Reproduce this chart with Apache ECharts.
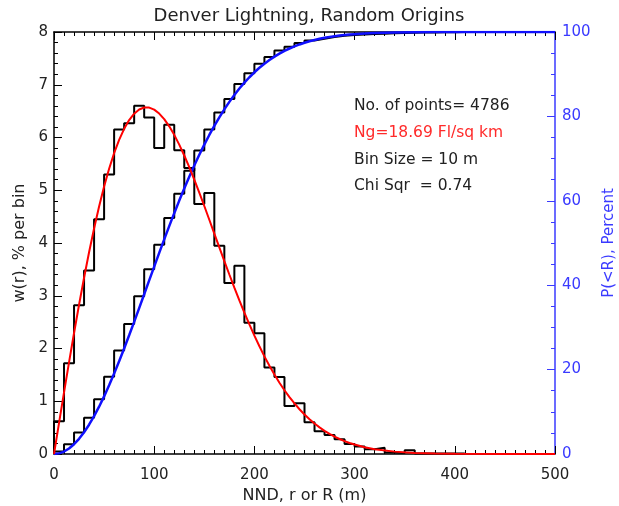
<!DOCTYPE html>
<html>
<head>
<meta charset="utf-8">
<script src="https://cdn.jsdelivr.net/npm/echarts@6/dist/echarts.min.js"></script>
<style>
html,body{margin:0;padding:0;background:#fff;}
#c{width:619px;height:506px;}
</style>
</head>
<body>
<div id="c"></div>
<script>
// ---- data ----
const binStarts = [0,10,20,30,40,50,60,70,80,90,100,110,120,130,140,150,160,170,180,190,200,210,220,230,240,250,260,270,280,290,300,310,320,330,340,350,360,370,380,390,400];
const histEnd = 410;
// observed w(r), % per bin
const histPct = [0.62,1.72,2.82,3.48,4.45,5.3,6.15,6.27,6.6,6.38,5.8,6.24,5.76,5.42,4.74,4.95,3.95,3.24,3.57,2.49,2.29,1.64,1.46,0.91,0.96,0.6,0.43,0.36,0.28,0.19,0.14,0.09,0.12,0.03,0.02,0.07,0.01,0.01,0.01,0.01,0.01];
// observed cumulative P(<R), percent
const cumPct = [0.6,2.3,5.1,8.6,13.0,18.3,24.5,30.8,37.4,43.8,49.6,55.9,61.7,67.1,71.9,76.9,80.9,84.1,87.7,90.2,92.5,94.1,95.6,96.5,97.4,98.0,98.4,98.8,99.1,99.3,99.4,99.5,99.6,99.7,99.75,99.85,99.9,99.9,99.95,99.95,100];
// fitted random-origin curves
const fitR = [0,5,10,15,20,25,30,35,40,45,50,55,60,65,70,75,80,85,90,95,100,105,110,115,120,125,130,135,140,145,150,155,160,165,170,175,180,185,190,195,200,205,210,215,220,225,230,235,240,245,250,255,260,265,270,275,280,285,290,295,300,310,320,340,360,380,400,450,500];
const fitW = [0,0.586,1.167,1.738,2.294,2.830,3.342,3.825,4.276,4.692,5.070,5.408,5.703,5.956,6.165,6.330,6.452,6.530,6.568,6.567,6.528,6.454,6.348,6.212,6.050,5.865,5.659,5.437,5.201,4.954,4.701,4.441,4.179,3.917,3.658,3.403,3.154,2.912,2.679,2.456,2.243,2.042,1.851,1.673,1.506,1.352,1.209,1.078,0.958,0.848,0.748,0.658,0.577,0.504,0.439,0.381,0.329,0.284,0.244,0.209,0.179,0.129,0.092,0.045,0.021,0.009,0.004,0.0005,0];
const fitP = [0,0.15,0.58,1.31,2.32,3.60,5.15,6.94,8.97,11.21,13.65,16.27,19.05,21.97,25.0,28.13,31.32,34.58,37.85,41.13,44.41,47.66,50.86,54.0,57.07,60.05,62.93,65.70,68.36,70.90,73.32,75.60,77.76,79.78,81.68,83.44,85.08,86.60,87.99,89.28,90.45,91.52,92.49,93.37,94.17,94.88,95.52,96.09,96.60,97.05,97.45,97.80,98.11,98.38,98.62,98.82,99.00,99.15,99.28,99.40,99.49,99.65,99.76,99.89,99.95,99.98,99.99,100,100];
const xTicks = [0,100,200,300,400,500];
const yLeftTicks = [0,1,2,3,4,5,6,7,8];
const yRightTicks = [0,20,40,60,80,100];
const titleText = 'Denver Lightning, Random Origins';
const notes = ['No. of points= 4786','Ng=18.69 Fl/sq km','Bin Size = 10 m','Chi Sqr  = 0.74'];

const FONT = 'DejaVu Sans';
const INK = '#222';
const BLUE = '#3a3aff';

const histData = [[0,0]].concat(binStarts.map((b,i)=>[b,histPct[i]])).concat([[histEnd,0]]);
const cumData = [[0,0]].concat(binStarts.map((b,i)=>[b,cumPct[i]])).concat([[histEnd,100]]);

const chart = echarts.init(document.getElementById('c'), null, {renderer:'canvas'});
const xCommon = {
  type:'value', min:xTicks[0], max:xTicks[xTicks.length-1], interval:100,
  axisLine:{show:true, onZero:false, lineStyle:{color:'#000', width:1.5}},
  axisTick:{show:true, inside:true, length:8, lineStyle:{color:'#000', width:1}},
  minorTick:{show:true, splitNumber:10, length:4, lineStyle:{color:'#000', width:1}},
  splitLine:{show:false}, minorSplitLine:{show:false}
};
chart.setOption({
  animation:false,
  backgroundColor:'#fff',
  title:{text:titleText, left:304, top:2, textAlign:'center',
    textStyle:{fontFamily:FONT, fontSize:18, fontWeight:'normal', color:INK}},
  grid:{left:54, right:64, top:32, bottom:52, containLabel:false, outerBoundsMode:'none'},
  xAxis:[
    Object.assign({}, xCommon, {position:'bottom',
      name:'NND, r or R (m)', nameLocation:'middle', nameGap:30,
      nameTextStyle:{fontFamily:FONT, fontSize:16, color:INK},
      axisLabel:{show:true, margin:14, fontFamily:FONT, fontSize:15, color:INK}}),
    Object.assign({}, xCommon, {position:'top', axisLabel:{show:false}})
  ],
  yAxis:[
    {type:'value', position:'left', min:0, max:8, interval:1,
     name:'w(r), % per bin', nameLocation:'middle', nameGap:24, nameRotate:90,
     nameTextStyle:{fontFamily:FONT, fontSize:16, color:INK},
     axisLine:{show:true, onZero:false, lineStyle:{color:'#000', width:1.5}},
     axisTick:{show:true, inside:true, length:8, lineStyle:{color:'#000'}},
     minorTick:{show:true, splitNumber:5, length:4, lineStyle:{color:'#000'}},
     axisLabel:{margin:6, fontFamily:FONT, fontSize:15, color:INK},
     splitLine:{show:false}},
    {type:'value', position:'right', min:0, max:100, interval:20,
     name:'P(<R), Percent', nameLocation:'middle', nameGap:32, nameRotate:90,
     nameTextStyle:{fontFamily:FONT, fontSize:15, color:BLUE},
     axisLine:{show:true, onZero:false, lineStyle:{color:BLUE, width:1.5}},
     axisTick:{show:true, inside:true, length:8, lineStyle:{color:BLUE}},
     minorTick:{show:true, splitNumber:4, length:4, lineStyle:{color:BLUE}},
     axisLabel:{margin:7, fontFamily:FONT, fontSize:15, color:BLUE},
     splitLine:{show:false}}
  ],
  series:[
    {type:'line', name:'hist', xAxisIndex:0, yAxisIndex:0, data:histData, step:'end',
     symbol:'none', lineStyle:{color:'#000', width:2}, z:2},
    {type:'line', name:'cum', xAxisIndex:0, yAxisIndex:1, data:cumData, step:'end',
     symbol:'none', lineStyle:{color:'#000', width:2}, z:2},
    {type:'line', name:'fitP', xAxisIndex:0, yAxisIndex:1, data:fitR.map((r,i)=>[r,fitP[i]]),
     symbol:'none', lineStyle:{color:'#1010ff', width:2.5}, z:3},
    {type:'line', name:'fitW', xAxisIndex:0, yAxisIndex:0, data:fitR.map((r,i)=>[r,fitW[i]]),
     symbol:'none', lineStyle:{color:'#ff0000', width:2}, z:4}
  ],
  graphic: notes.map((t,i)=>({
    type:'text', left:354, top:[98,125,152,178][i],
    style:{text:t, fontFamily:FONT, fontSize:15.5, fill: i===1 ? '#ff2a2a' : INK}
  }))
});
</script>
</body>
</html>
